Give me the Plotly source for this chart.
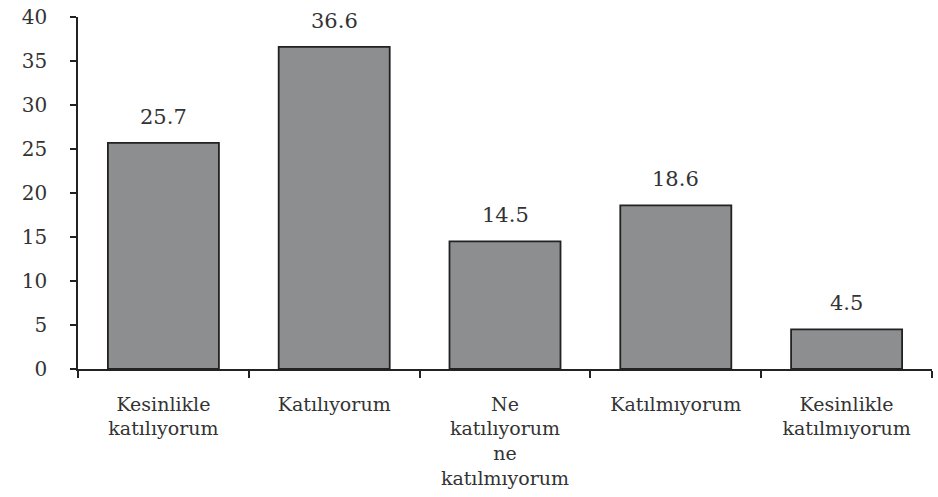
import plotly.graph_objects as go

categories = ["Kesinlikle<br>katılıyorum", "Katılıyorum", "Ne<br>katılıyorum<br>ne<br>katılmıyorum",
              "Katılmıyorum", "Kesinlikle<br>katılmıyorum"]
values = [25.7, 36.6, 14.5, 18.6, 4.5]
y_ticks = [0, 5, 10, 15, 20, 25, 30, 35, 40]

font_family = "DejaVu Serif"
text_color = "#333333"

fig = go.Figure(go.Bar(
    x=categories, y=values,
    marker=dict(color="#8d8e90", line=dict(color="#222222", width=1.8)),
    width=0.65,
    hoverinfo="skip",
))

for c, v in zip(categories, values):
    fig.add_annotation(
        x=c, y=v, text=f"{v:.1f}", showarrow=False,
        yanchor="bottom", yshift=12,
        font=dict(family=font_family, size=21, color=text_color),
    )

fig.update_layout(
    width=938, height=497,
    margin=dict(l=78, r=6, t=17, b=128),
    paper_bgcolor="white", plot_bgcolor="white",
    showlegend=False,
    font=dict(family=font_family, size=20, color=text_color),
)
fig.update_xaxes(
    showline=True, linecolor="#222222", linewidth=1.5,
    ticks="outside", tickson="boundaries", ticklen=7, tickcolor="#222222", tickwidth=1.5,
    showgrid=False, ticklabelstandoff=17,
    tickfont=dict(family=font_family, size=19, color=text_color),
)
fig.update_yaxes(
    range=[0, 40], tickvals=y_ticks,
    showline=True, linecolor="#222222", linewidth=1.5,
    ticks="outside", ticklen=6, tickcolor="#222222", tickwidth=1.5,
    showgrid=False, zeroline=False, ticklabelstandoff=19,
    tickfont=dict(family=font_family, size=20, color=text_color),
)

fig.write_html("out.html", config={"displayModeBar": False},
               post_script="document.body.style.margin='0';")
